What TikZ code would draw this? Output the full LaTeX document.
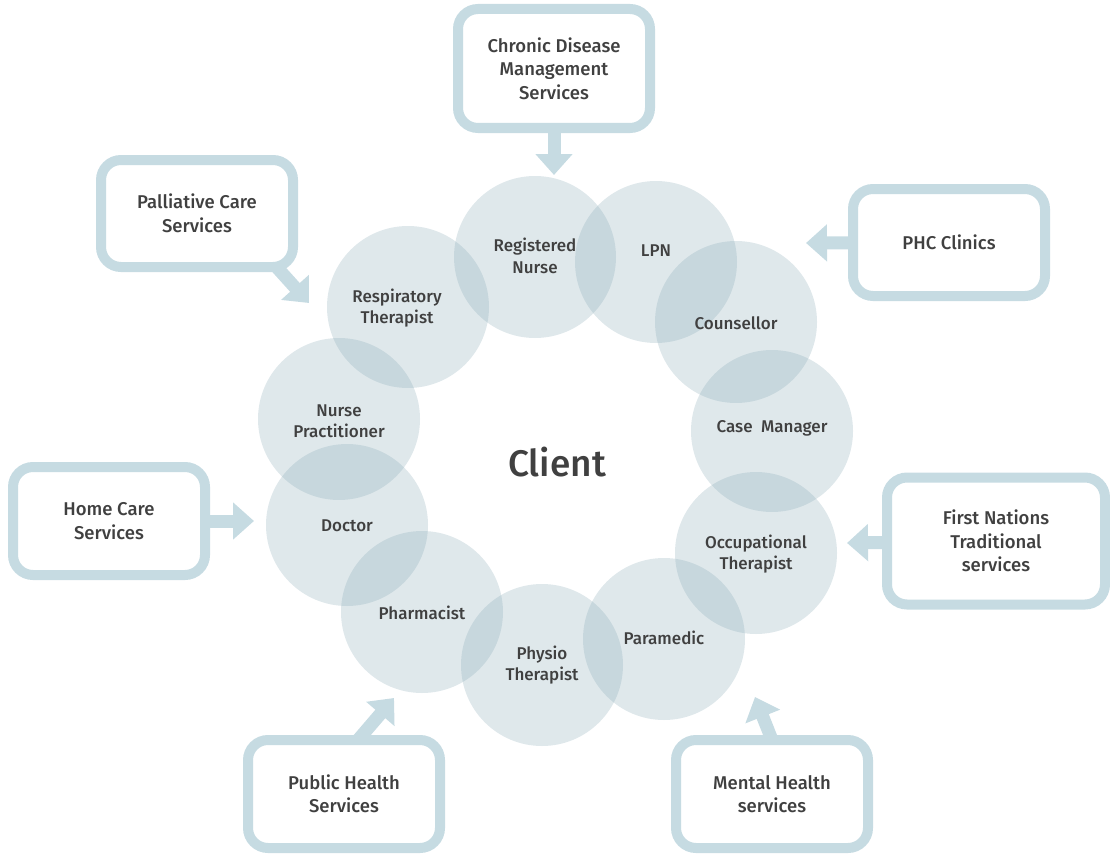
\documentclass[tikz,border=0pt]{standalone}
\usepackage{fontspec}
\setmainfont{Fira Sans Medium}
\usetikzlibrary{arrows.meta,calc}
\definecolor{ringfill}{RGB}{128,164,177}
\definecolor{boxline}{RGB}{198,219,226}
\definecolor{txt}{RGB}{64,64,64}
\begin{document}
\begin{tikzpicture}[x=1pt,y=-1pt,
  circ/.style={circle,minimum size=162pt,inner sep=0pt,fill=ringfill,fill opacity=0.25,draw=none},
  lab/.style={align=center,text=txt,font=\fontsize{17}{21.5}\selectfont},
  svc/.style={rounded corners=20pt,draw=boxline,line width=10pt,fill=white,align=center,text=txt,
    font=\fontsize{18.5}{23.5}\selectfont,minimum width=192pt,minimum height=108pt,inner sep=0pt},
  arr/.style={draw=boxline,line width=13pt,-{Triangle[width=36pt,length=21pt]}}]
\useasboundingbox (0,0) rectangle (1110,856);
% circles
\node[circ] (rn) at (535,257) {};
\node[circ] (lpn) at (656,262) {};
\node[circ] (cou) at (736,322) {};
\node[circ] (cm) at (772,431) {};
\node[circ] (ot) at (756,553) {};
\node[circ] (para) at (664,639) {};
\node[circ] (phys) at (542,665) {};
\node[circ] (phar) at (422,612) {};
\node[circ] (doc) at (347,525) {};
\node[circ] (np) at (339,419) {};
\node[circ] (resp) at (408,307) {};
% labels
\node[lab] (lrn) at (535,256) {Registered\\Nurse};
\node[lab] (llpn) at (656,251) {LPN};
\node[lab] (lcou) at (736,323) {Counsellor};
\node[lab] (lcm) at (772,428) {Case\ \ Manager};
\node[lab] (lot) at (756,554) {Occupational\\Therapist};
\node[lab] (lpara) at (664,638) {Paramedic};
\node[lab] (lphys) at (542,665) {Physio\\Therapist};
\node[lab] (lphar) at (422,613) {Pharmacist};
\node[lab] (ldoc) at (347,526) {Doctor};
\node[lab] (lnp) at (339,421) {Nurse\\Practitioner};
\node[lab] (lresp) at (397,308) {Respiratory\\Therapist};
\node[text=txt,font=\fontsize{37}{42}\selectfont] (client) at (557,462) {Client};
% arrow tips
\coordinate (tchr) at (554,175);
\coordinate (tpal) at (309,303);
\coordinate (tphc) at (806,243);
\coordinate (thom) at (254,521);
\coordinate (tfn) at (847,543);
\coordinate (tpub) at (394,698);
\coordinate (tmen) at (755,697);
% boxes (positions)
\path (554,68.5) coordinate (cchr) (197,213.5) coordinate (cpal) (949,242.5) coordinate (cphc)
      (109,521) coordinate (chom) (996,541) coordinate (cfn) (344,794) coordinate (cpub) (772,794) coordinate (cmen);
\draw[arr] (cchr) -- (tchr);
\draw[arr] ($(cpal)+(80,54)$) -- (tpal);
\draw[arr] (cphc) -- (tphc);
\draw[arr] (chom) -- (thom);
\draw[arr] (cfn) -- (tfn);
\draw[arr] ($(cpub)+(14,-54)$) -- (tpub);
\draw[arr] ($(cmen)+(0,-54)$) -- (tmen);
\node[svc,minimum height=119pt] (chr) at (cchr) {Chronic Disease\\Management\\Services};
\node[svc,minimum height=107pt] (pal) at (cpal) {Palliative Care\\Services};
\node[svc,minimum height=107pt] (phc) at (cphc) {PHC Clinics};
\node[svc] (hom) at (chom) {Home Care\\Services};
\node[svc,minimum width=218pt,minimum height=127pt] (fn) at (cfn) {First Nations\\Traditional\\services};
\node[svc] (pub) at (cpub) {Public Health\\Services};
\node[svc] (men) at (cmen) {Mental Health\\services};
\end{tikzpicture}
\end{document}
